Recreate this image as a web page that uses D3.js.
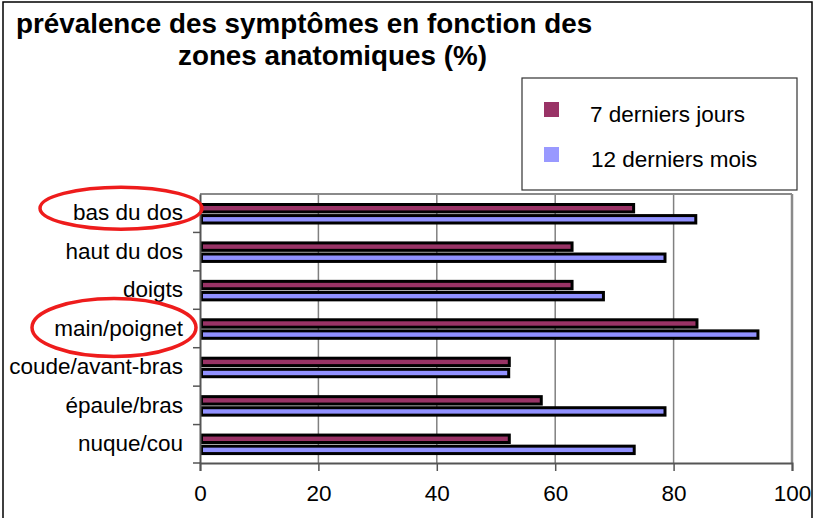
<!DOCTYPE html>
<html>
<head>
<meta charset="utf-8">
<script src="https://cdn.jsdelivr.net/npm/d3@7.9.0/dist/d3.min.js"></script>
<style>
  body { margin: 0; background: #fff; }
  svg { display: block; font-family: "Liberation Sans", Arial, sans-serif; }
</style>
</head>
<body>
<div id="chart"></div>
<script>
// categories top to bottom
const zones = ['bas du dos', 'haut du dos', 'doigts', 'main/poignet', 'coude/avant-bras', 'épaule/bras', 'nuque/cou'];
const series = ['7 derniers jours', '12 derniers mois'];
const jours7 = [73.5, 63.1, 63.1, 84.2, 52.5, 57.9, 52.5];
const mois12 = [84.0, 78.8, 68.4, 94.5, 52.4, 78.8, 73.6];
const xTicks = [0, 20, 40, 60, 80, 100];
const circled = ['bas du dos', 'main/poignet'];

const colors = ['#993366', '#9999ff'];
const barColors = ['#993366', '#9191ff'];

const width = 815, height = 518;
const margin = { top: 194, right: 23, bottom: 55, left: 200 };
const innerWidth = width - margin.left - margin.right;
const innerHeight = height - margin.top - margin.bottom;

const svg = d3.select('#chart').append('svg')
    .attr('width', width)
    .attr('height', height);

// outer frame
svg.append('rect')
    .attr('x', 3).attr('y', 2)
    .attr('width', 809).attr('height', 530)
    .attr('fill', 'none').attr('stroke', '#000').attr('stroke-width', 1.5);

// title
svg.append('text')
    .attr('x', 16).attr('y', 33)
    .style('font-size', '27.8px').style('font-weight', 'bold')
    .text('prévalence des symptômes en fonction des');
svg.append('text')
    .attr('x', 178).attr('y', 65)
    .style('font-size', '27.8px').style('font-weight', 'bold')
    .text('zones anatomiques (%)');

const g = svg.append('g')
    .attr('transform', `translate(${margin.left}, ${margin.top})`);

const x = d3.scaleLinear().domain([0, 100]).range([0, innerWidth]);
const y = d3.scaleBand().domain(zones).range([0, innerHeight]);
const ySub = d3.scaleBand().domain(series).range([9, 30.5]).paddingInner(0.06);

// gridlines
g.selectAll('.grid')
    .data(xTicks.filter(t => t > 0 && t < 100))
    .join('line')
    .attr('class', 'grid')
    .attr('x1', d => x(d)).attr('x2', d => x(d))
    .attr('y1', 0).attr('y2', innerHeight)
    .attr('stroke', '#808080').attr('stroke-width', 1.5);

// plot frame top / right
g.append('line')
    .attr('x1', 0).attr('x2', innerWidth).attr('y1', 0).attr('y2', 0)
    .attr('stroke', '#8a8a8a').attr('stroke-width', 2);
g.append('line')
    .attr('x1', innerWidth).attr('x2', innerWidth).attr('y1', 0).attr('y2', innerHeight)
    .attr('stroke', '#8a8a8a').attr('stroke-width', 2.5);

// bars
const rows = zones.map((z, i) => ({ zone: z, values: [jours7[i], mois12[i]] }));
rows.forEach(r => {
  g.selectAll(null)
    .data(r.values.map((v, k) => ({ zone: r.zone, s: series[k], v, k })))
    .join('rect')
    .attr('x', x(0) + 1.5)
    .attr('y', d => y(d.zone) + ySub(d.s) + 1.5)
    .attr('width', d => x(d.v) - x(0) - 3)
    .attr('height', ySub.bandwidth() - 3)
    .attr('fill', d => barColors[d.k])
    .attr('stroke', '#000')
    .attr('stroke-width', 3);
});

// x axis
const xAxis = g.append('g')
    .attr('transform', `translate(0, ${innerHeight})`)
    .call(d3.axisBottom(x).tickValues(xTicks).tickSize(8).tickPadding(14).tickFormat(d3.format('d')));
xAxis.select('.domain').attr('stroke', '#555').attr('stroke-width', 2);
xAxis.selectAll('.tick line').attr('stroke', '#555').attr('stroke-width', 1.5);
xAxis.selectAll('text')
    .style('font-size', '22.5px').style('font-family', '"Liberation Sans", Arial, sans-serif')
    .attr('fill', '#000');

// y axis
const yAxis = g.append('g')
    .call(d3.axisLeft(y).tickSize(0).tickPadding(17));
yAxis.select('.domain').attr('stroke', '#555').attr('stroke-width', 2);
yAxis.selectAll('text')
    .style('font-size', '22.5px').style('font-family', '"Liberation Sans", Arial, sans-serif')
    .attr('fill', '#000');

// category boundary ticks
g.selectAll('.ytick')
    .data(zones.slice(1).concat(['__end']))
    .join('line')
    .attr('class', 'ytick')
    .attr('x1', -7).attr('x2', 0)
    .attr('y1', d => d === '__end' ? innerHeight : y(d))
    .attr('y2', d => d === '__end' ? innerHeight : y(d))
    .attr('stroke', '#555').attr('stroke-width', 1.5);

// red ellipses around highlighted labels
const ell = [{ cx: 121, rx: 81, ry: 21 }, { cx: 114, rx: 82, ry: 29 }];
g.selectAll('.ring')
    .data(circled)
    .join('ellipse')
    .attr('class', 'ring')
    .attr('cx', (d, i) => ell[i].cx - margin.left)
    .attr('cy', d => y(d) + y.bandwidth() / 2 - 5 + (d === 'main/poignet' ? 4 : 0))
    .attr('rx', (d, i) => ell[i].rx)
    .attr('ry', (d, i) => ell[i].ry)
    .attr('fill', 'none')
    .attr('stroke', '#ee1c1c')
    .attr('stroke-width', 3.5);

// legend
const legend = svg.append('g').attr('transform', 'translate(522, 78)');
legend.append('rect')
    .attr('width', 275).attr('height', 112)
    .attr('fill', '#fff').attr('stroke', '#333').attr('stroke-width', 1.2);
const li = legend.selectAll('.li')
    .data(series)
    .join('g')
    .attr('class', 'li')
    .attr('transform', (d, i) => `translate(0, ${i * 45})`);
li.append('rect')
    .attr('x', 22).attr('y', 24)
    .attr('width', 15).attr('height', 15)
    .attr('fill', (d, i) => colors[i]);
li.append('text')
    .attr('x', (d, i) => 68 + i)
    .attr('y', 44)
    .style('font-size', '22.5px')
    .text(d => d);
</script>
</body>
</html>
